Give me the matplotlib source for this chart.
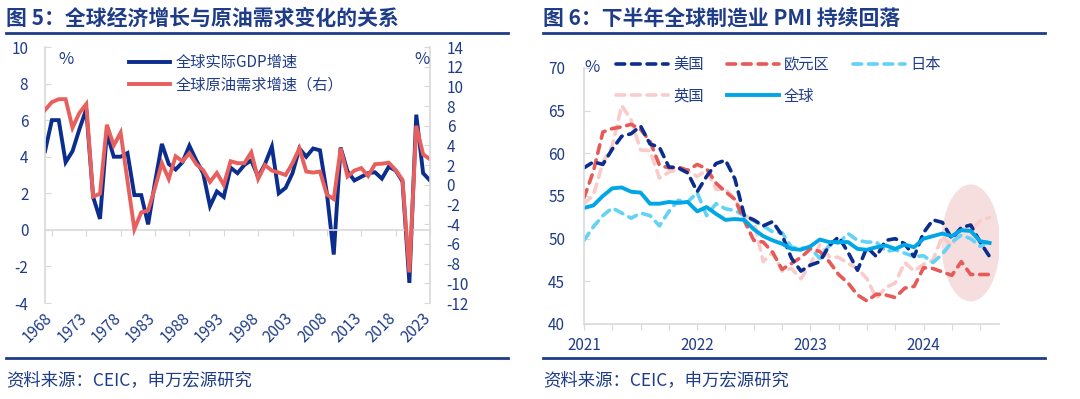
import matplotlib
matplotlib.use('Agg')
import matplotlib.pyplot as plt
import matplotlib.transforms as mtrans
from matplotlib.patches import Ellipse
import numpy as np

plt.rcParams['font.family'] = ['Noto Sans CJK SC', 'DejaVu Sans']
plt.rcParams['axes.unicode_minus'] = False

NAVY = '#1F3C88'
GRAY = '#D9D9D9'

# ---- 图5 data: annual, right axis = oil demand
years = list(range(1967, 2024))
gdp_growth = [4.3, 6.0, 6.0, 3.7, 4.3, 5.5, 6.6, 1.8, 0.6, 5.3,
              4.0, 4.0, 4.2, 1.9, 1.9, 0.3, 2.6, 4.7, 3.6, 3.3,
              3.7, 4.6, 3.8, 3.1, 1.3, 2.1, 1.8, 3.4, 3.1, 3.55,
              3.8, 2.9, 3.6, 4.55, 2.0, 2.3, 3.1, 4.45, 4.0, 4.45,
              4.35, 2.0, -1.35, 4.5, 3.2, 2.7, 2.9, 3.1, 3.15, 2.8,
              3.45, 3.25, 2.65, -2.9, 6.3, 3.1, 2.7]
oil_growth = [7.6, 8.4, 8.7, 8.7, 5.8, 7.3, 8.2, -1.2, -0.9, 6.1,
              4.0, 5.3, 0.4, -4.5, -2.8, -2.6, -0.3, 2.2, 0.6, 2.9,
              2.4, 3.2, 2.1, 1.5, 0.3, 1.2, 0.0, 2.4, 2.2, 2.2,
              3.3, 0.6, 2.0, 1.45, 1.25, 1.0, 2.2, 3.7, 1.35, 1.25,
              1.35, -1.0, -1.45, 3.7, 0.85, 1.45, 1.7, 0.9, 2.1, 2.15,
              2.25, 1.5, 0.5, -8.9, 6.0, 3.1, 2.6]
label_years = years[1::5]

# ---- 图6 data: monthly PMI, 2021-01 .. 2024-08
months = [f'{y}-{m:02d}' for y in range(2021, 2025) for m in range(1, 13)][:44]
pmi_us = [58.3, 59.0, 58.7, 60.5, 62.0, 62.3, 63.2, 61.1, 60.7, 58.4, 58.3, 57.7,
          55.5, 57.3, 58.8, 59.2, 57.0, 52.7, 52.2, 51.5, 52.0, 50.4, 47.7, 46.2,
          46.9, 47.3, 49.2, 50.2, 48.4, 46.3, 49.0, 47.9, 49.8, 50.0, 49.4, 47.9,
          50.7, 52.2, 51.9, 50.0, 51.3, 51.6, 49.6, 47.9]
pmi_euro = [54.8, 57.9, 62.5, 62.9, 63.1, 63.4, 62.8, 61.4, 58.6, 58.3, 58.4, 58.0,
            58.7, 58.2, 56.5, 55.5, 54.6, 52.1, 49.8, 49.6, 48.4, 46.4, 47.1, 47.8,
            48.8, 48.5, 47.3, 45.8, 44.8, 43.4, 42.7, 43.5, 43.4, 43.1, 44.2, 44.4,
            46.6, 46.5, 46.1, 45.7, 47.3, 45.8, 45.8, 45.8]
pmi_japan = [49.8, 51.4, 52.7, 53.6, 53.0, 52.4, 53.0, 52.7, 51.5, 53.2, 54.5, 54.3,
             55.4, 52.7, 54.1, 53.5, 53.3, 52.7, 52.1, 51.5, 50.8, 50.7, 49.0, 48.9,
             48.9, 47.7, 49.2, 49.5, 50.6, 49.8, 49.6, 49.6, 48.5, 48.7, 48.3, 47.9,
             48.0, 47.2, 48.2, 49.6, 50.4, 50.0, 49.1, 49.8]
pmi_uk = [54.1, 55.1, 58.9, 60.9, 65.6, 63.9, 60.4, 60.3, 57.1, 57.8, 58.1, 57.9,
          57.3, 58.0, 55.8, 55.8, 54.6, 52.8, 52.1, 47.3, 48.4, 46.2, 46.5, 45.3,
          47.0, 49.3, 47.9, 47.8, 47.1, 46.5, 45.3, 43.0, 44.3, 44.8, 47.2, 46.2,
          47.0, 47.5, 50.3, 49.1, 51.2, 50.9, 52.1, 52.5]
pmi_global = [53.6, 53.9, 55.0, 55.9, 56.0, 55.5, 55.4, 54.1, 54.1, 54.3, 54.2, 54.3,
              53.2, 53.7, 52.9, 52.2, 52.3, 52.2, 51.1, 50.3, 49.8, 49.4, 48.8, 48.7,
              49.1, 49.9, 49.6, 49.6, 49.6, 48.8, 48.7, 49.0, 49.2, 48.8, 49.3, 49.0,
              50.0, 50.3, 50.6, 50.3, 51.0, 50.9, 49.7, 49.5]

W, H = 1080, 399
fig = plt.figure(figsize=(W / 100, H / 100), dpi=100)


def px_box(x0, y0, x1, y1):
    # pixel box (top-left origin) -> figure fraction rect
    return [x0 / W, 1 - y1 / H, (x1 - x0) / W, (y1 - y0) / H]


def fx(x):
    return x / W


def fy(y):
    return 1 - y / H


# headers, rules and sources
for x0, x1, title in [(6, 508, '图 5：全球经济增长与原油需求变化的关系'),
                      (543, 1045, '图 6：下半年全球制造业 PMI 持续回落')]:
    fig.text(fx(x0), fy(18), title, fontsize=15, fontweight='bold', color=NAVY,
             ha='left', va='center')
    fig.add_artist(plt.Line2D([fx(x0), fx(x1)], [fy(33), fy(33)], color=NAVY, lw=2))
    fig.add_artist(plt.Line2D([fx(x0), fx(x1)], [fy(358), fy(358)], color=NAVY, lw=2))
    fig.text(fx(x0), fy(380), '资料来源：CEIC，申万宏源研究', fontsize=12.5,
             color=NAVY, ha='left', va='center')

# ---------------- 图5 ----------------
ax = fig.add_axes(px_box(45, 47, 430, 303))
ax2 = ax.twinx()
ax.set_xlim(years[0], years[-1])
ax.set_ylim(-4, 10)
ax.set_yticks(range(-4, 11, 2))
ax2.set_ylim(-12, 14)
ax2.set_yticks(range(-12, 15, 2))

l1, = ax.plot(years, gdp_growth, color='#0B2D8E', lw=2.8, solid_joinstyle='miter')
l2, = ax2.plot(years, oil_growth, color='#E8605D', lw=2.8, solid_joinstyle='miter')

for s in ['top', 'right']:
    ax.spines[s].set_visible(False)
for s in ['top', 'left', 'bottom']:
    ax2.spines[s].set_visible(False)
ax.spines['left'].set_color(GRAY)
ax.spines['bottom'].set_color(GRAY)
ax.spines['bottom'].set_position(('data', 0))
ax2.spines['right'].set_color(GRAY)
for sp in [ax.spines['left'], ax.spines['bottom'], ax2.spines['right']]:
    sp.set_linewidth(1.2)

# tick marks sit on the zero line (ax), year labels sit at the bottom (twin's x axis)
ax.tick_params(axis='x', direction='out', length=4, color=GRAY, labelbottom=False)
ax2.xaxis.set_visible(True)
ax2.set_xticks(label_years, labels=[str(y) for y in label_years],
               rotation=45, ha='right')
ax2.tick_params(axis='x', length=0, pad=5, labelsize=11, labelcolor=NAVY,
                labelbottom=True, labeltop=False)

ax.tick_params(axis='y', direction='in', length=4, color=GRAY, labelcolor=NAVY,
               labelsize=11, pad=12)
ax2.tick_params(axis='y', direction='in', length=4, color=GRAY, labelcolor=NAVY,
                labelsize=11, pad=12)

fig.text(fx(66), fy(60), '%', fontsize=12, color=NAVY, ha='center', va='center')
fig.text(fx(422), fy(60), '%', fontsize=12, color=NAVY, ha='center', va='center')

fig.legend([l1, l2], ['全球实际GDP增速', '全球原油需求增速（右）'], loc='upper left',
           bbox_to_anchor=(fx(129), fy(54)), frameon=False, fontsize=11,
           labelcolor=NAVY, handlelength=2.7, handletextpad=0.35, labelspacing=0.35,
           borderpad=0, borderaxespad=0)

# ---------------- 图6 ----------------
bx = fig.add_axes(px_box(584, 68, 999, 324))
x = np.arange(len(months))
bx.set_xlim(0, 44)
bx.set_ylim(40, 70)
bx.set_yticks(range(40, 71, 5))

hl = Ellipse((x[-3], 49.5), 6.2, 13.7, facecolor='#F6DEDE', edgecolor='none', zorder=0)
bx.add_patch(hl)

dash = dict(lw=2.6, dashes=(2.4, 1.9), dash_capstyle='round')
h_uk, = bx.plot(x, pmi_uk, color='#F9CBCB', **dash)
h_jp, = bx.plot(x, pmi_japan, color='#62D2F7', **dash)
h_eu, = bx.plot(x, pmi_euro, color='#E65A58', **dash)
h_us, = bx.plot(x, pmi_us, color='#0B2D8E', **dash)
h_gl, = bx.plot(x, pmi_global, color='#00A6E6', lw=2.8)

for s in ['top', 'right']:
    bx.spines[s].set_visible(False)
for s in ['left', 'bottom']:
    bx.spines[s].set_color(GRAY)
    bx.spines[s].set_linewidth(1.2)

tick_pos = x[::3]
bx.set_xticks(tick_pos)
bx.set_xticklabels([m[:4] if m.endswith('-01') else '' for m in months[::3]])
bx.tick_params(axis='x', direction='out', length=4, color=GRAY, labelcolor=NAVY,
               labelsize=11, pad=5)
bx.tick_params(axis='y', direction='in', length=4, color=GRAY, labelcolor=NAVY,
               labelsize=11, pad=13.5)

fig.text(fx(592), fy(67), '%', fontsize=12, color=NAVY, ha='center', va='center')

bx.legend([h_us, h_uk, h_eu, h_gl, h_jp], ['美国', '英国', '欧元区', '全球', '日本'],
          ncol=3, loc='upper left', bbox_to_anchor=(fx(616), fy(56)),
          bbox_transform=fig.transFigure, frameon=False, fontsize=11,
          labelcolor=NAVY, handlelength=3.4, handletextpad=0.35, labelspacing=0.95,
          columnspacing=1.5, borderpad=0, borderaxespad=0)

# make sure every year label carries the rotation after ticks are built,
# and nudge them a few pixels right like the original
fig.canvas.draw()
shift = mtrans.ScaledTranslation(4 / 100, 0, fig.dpi_scale_trans)
for lbl in ax2.get_xticklabels():
    lbl.set_rotation(45)
    lbl.set_ha('right')
    lbl.set_transform(lbl.get_transform() + shift)

fig.savefig('out.png', dpi=100)
